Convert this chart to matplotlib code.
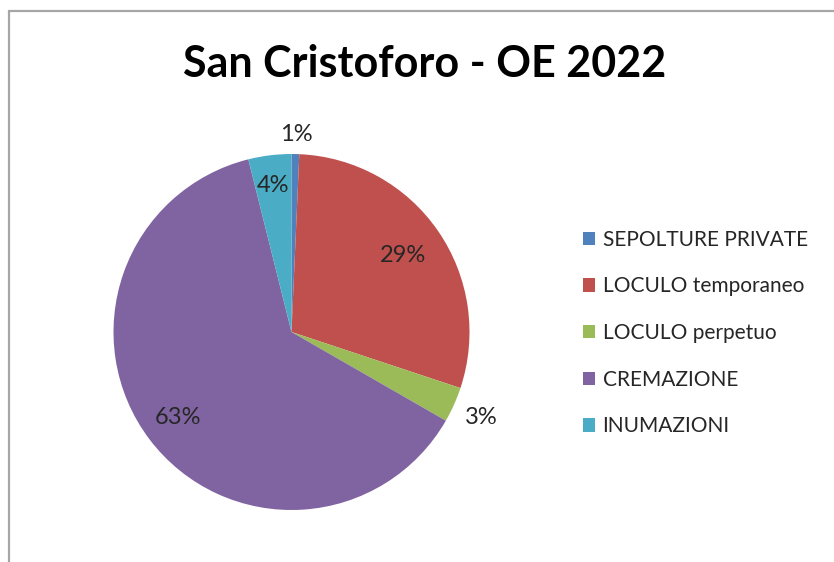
import numpy as np
import matplotlib.pyplot as plt
from matplotlib.patches import Patch, Rectangle

plt.rcParams["font.family"] = ["Lato", "DejaVu Sans"]

# data
categories = ["SEPOLTURE PRIVATE", "LOCULO temporaneo", "LOCULO perpetuo",
              "CREMAZIONE", "INUMAZIONI"]
shares = [0.7, 29.4, 3.2, 62.8, 3.9]
pct_labels = ["1%", "29%", "3%", "63%", "4%"]
colors = ["#4F81BD", "#C0504D", "#9BBB59", "#8064A2", "#4BACC6"]
label_dist = [1.11, 0.76, 1.17, 0.80, 0.83]

W, H = 834, 562
fig = plt.figure(figsize=(W / 100, H / 100), dpi=100)

# chart frame (cut at right/bottom like the screenshot)
fig.patches.append(Rectangle((9 / W, -0.1), 1.2, (H - 11) / H + 0.1,
                             transform=fig.transFigure, fill=False,
                             edgecolor="#A6A6A6", linewidth=1.6))

cx, cy, r = 291.5, 332, 178
ax = fig.add_axes([(cx - r) / W, (H - cy - r) / H, 2 * r / W, 2 * r / H])
wedges, _ = ax.pie(shares, colors=colors, startangle=90, counterclock=False,
                   radius=1, wedgeprops=dict(linewidth=0))
ax.set_xlim(-1, 1)
ax.set_ylim(-1, 1)
ax.set_aspect("equal")
ax.axis("off")

cum = np.cumsum([0] + shares)
for i, lab in enumerate(pct_labels):
    mid = (cum[i] + cum[i + 1]) / 2 / sum(shares) * 2 * np.pi
    d = label_dist[i]
    ax.text(d * np.sin(mid), d * np.cos(mid), lab, ha="center", va="center",
            fontsize=17, color="#262626")

fig.text(425 / W, 1 - 64 / H, "San Cristoforo - OE 2022", ha="center",
         va="center", fontsize=31, fontweight="bold", color="black")

handles = [Patch(facecolor=c, edgecolor="none") for c in colors]
fig.legend(handles, categories, loc="center left",
           bbox_to_anchor=(564 / W, 1 - 333 / H), frameon=False,
           fontsize=15, handlelength=0.6, handleheight=0.6,
           handletextpad=0.35, labelspacing=1.28, labelcolor="#262626")

fig.savefig("out.png", dpi=100, facecolor="white")
